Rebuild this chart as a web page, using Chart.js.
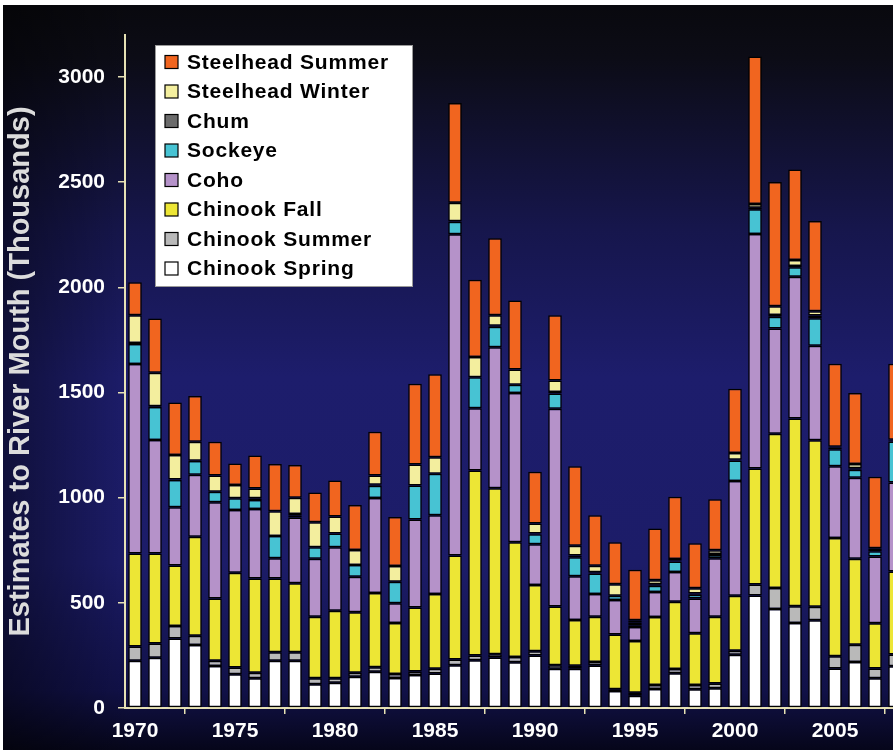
<!DOCTYPE html>
<html>
<head>
<meta charset="utf-8">
<script src="https://cdn.jsdelivr.net/npm/chart.js@4.4.1/dist/chart.umd.min.js"></script>
<style>
    html, body { margin: 0; padding: 0; background: #ffffff; overflow: hidden; width: 893px; height: 750px; }
    #wrap { position: absolute; left: 3px; top: 5px; width: 912px; height: 745px; }
</style>
</head>
<body>
<div id="wrap"><canvas id="runs" width="912" height="745"></canvas></div>
<script>
// Columbia River returns, thousands of fish, 1970-2008
const years = ['1970','1971','1972','1973','1974','1975','1976','1977','1978','1979',
    '1980','1981','1982','1983','1984','1985','1986','1987','1988','1989',
    '1990','1991','1992','1993','1994','1995','1996','1997','1998','1999',
    '2000','2001','2002','2003','2004','2005','2006','2007','2008'];

const chinookSpring = [225,239,331,300,200,160,141,225,225,113,
    120,149,172,143,157,164,203,227,240,217,
    250,187,187,202,81,58,90,165,89,94,
    253,535,471,404,417,188,219,141,199];
const chinookSummer = [67,68,59,44,25,32,27,40,40,28,
    21,19,22,19,16,23,28,23,16,25,
    20,16,14,17,8,15,19,20,20,23,
    19,52,100,80,64,58,82,47,55];
const chinookFall = [443,428,288,470,296,451,448,351,328,293,
    322,287,353,242,305,355,494,879,789,546,
    315,280,217,215,261,246,324,320,246,317,
    262,552,733,892,792,562,409,215,395];
const coho = [901,539,276,295,457,298,330,96,313,276,
    301,169,452,94,418,375,1528,296,670,710,
    194,940,209,108,163,66,118,142,166,278,
    545,1115,500,675,450,342,385,317,423];
const sockeye = [95,157,130,65,50,56,43,106,10,54,
    66,56,58,102,162,197,59,148,98,39,
    47,72,90,98,21,8,30,50,18,16,
    98,117,56,45,130,80,38,25,195];
const chum = [4,4,3,2,0,0,8,0,6,0,
    0,0,4,0,0,0,3,0,4,0,
    4,7,8,6,0,12,8,6,6,4,
    3,8,9,6,13,8,7,6,4];
const steelheadWinter = [132,159,116,90,77,63,47,117,78,119,
    80,71,45,75,100,78,87,96,50,73,
    47,55,46,30,54,12,18,6,24,18,
    32,18,41,28,20,4,20,8,4];
const steelheadSummer = [157,258,250,217,161,103,157,225,155,142,
    172,214,208,233,384,395,475,367,366,327,
    246,310,378,240,200,240,247,296,214,242,
    306,701,591,430,430,395,338,340,362];

const yTicks = [0, 500, 1000, 1500, 2000, 2500, 3000];

const axisColor = '#e6e1b4';
const labelFont = { family: '"Liberation Sans", Arial, sans-serif', size: 21, weight: 'bold' };

function series(label, data, color) {
    return {
        label: label,
        data: data,
        backgroundColor: color,
        borderColor: '#000000',
        borderWidth: 1.5,
        borderSkipped: false,
        barPercentage: 0.68,
        categoryPercentage: 1
    };
}

// bottom of the stack first
const datasets = [
    series('Chinook Spring', chinookSpring, '#ffffff'),
    series('Chinook Summer', chinookSummer, '#b9b9b9'),
    series('Chinook Fall', chinookFall, '#ede635'),
    series('Coho', coho, '#b592c9'),
    series('Sockeye', sockeye, '#47c3d3'),
    series('Chum', chum, '#6b6b6b'),
    series('Steelhead Winter', steelheadWinter, '#f3ee9e'),
    series('Steelhead Summer', steelheadSummer, '#f1651f')
];

const background = {
    id: 'background',
    beforeDraw(chart) {
        const ctx = chart.ctx;
        const h = chart.height, w = chart.width;
        const g = ctx.createLinearGradient(0, 0, 0, h);
        g.addColorStop(0, '#09090e');
        g.addColorStop(0.07, '#0c0c16');
        g.addColorStop(0.3, '#16164c');
        g.addColorStop(0.5, '#1d1d6c');
        g.addColorStop(0.75, '#1c1c68');
        g.addColorStop(0.92, '#111148');
        g.addColorStop(1, '#06061a');
        ctx.save();
        ctx.fillStyle = g;
        ctx.fillRect(0, 0, w, h);
        const side = ctx.createLinearGradient(0, 0, 130, 0);
        side.addColorStop(0, 'rgba(0,0,0,0.45)');
        side.addColorStop(1, 'rgba(0,0,0,0)');
        ctx.fillStyle = side;
        ctx.fillRect(0, 0, 130, h);
        ctx.restore();
    }
};

const boxLegend = {
    id: 'boxLegend',
    afterDraw(chart) {
        const ctx = chart.ctx;
        const x = 152, y = 40, w = 258, h = 242;
        ctx.save();
        ctx.fillStyle = '#ffffff';
        ctx.fillRect(x, y, w, h);
        ctx.strokeStyle = '#9a9a9a';
        ctx.lineWidth = 1;
        ctx.strokeRect(x + 0.5, y + 0.5, w - 1, h - 1);
        ctx.font = 'bold 21px "Liberation Sans", Arial, sans-serif';
        ctx.textBaseline = 'middle';
        ctx.letterSpacing = '0.8px';
        const items = chart.data.datasets.slice().reverse();
        items.forEach(function (ds, i) {
            const cy = y + 17 + i * 29.5;
            ctx.fillStyle = ds.backgroundColor;
            ctx.fillRect(x + 10, cy - 6.5, 13, 13);
            ctx.strokeStyle = '#000000';
            ctx.lineWidth = 1.2;
            ctx.strokeRect(x + 10, cy - 6.5, 13, 13);
            ctx.fillStyle = '#000000';
            ctx.fillText(ds.label, x + 32, cy + 1);
        });
        ctx.restore();
    }
};

new Chart(document.getElementById('runs'), {
    type: 'bar',
    data: { labels: years, datasets: datasets },
    options: {
        responsive: false,
        animation: false,
        devicePixelRatio: 1,
        layout: { padding: { top: 30, right: 10, left: 0, bottom: 0 } },
        plugins: {
            legend: { display: false },
            tooltip: { enabled: false }
        },
        scales: {
            x: {
                stacked: true,
                afterFit: function (scale) { scale.height = 42; },
                border: { display: true, color: axisColor, width: 2 },
                grid: { display: true, offset: true, drawOnChartArea: false, drawTicks: true, tickLength: 6, color: axisColor, lineWidth: 1.5 },
                ticks: {
                    autoSkip: false,
                    maxRotation: 0,
                    padding: 5,
                    color: '#ffffff',
                    font: labelFont,
                    callback: function (value) {
                        const label = this.getLabelForValue(value);
                        return Number(label) % 5 === 0 ? label : null;
                    }
                }
            },
            y: {
                stacked: true,
                min: 0,
                max: 3200,
                afterFit: function (scale) { scale.width = 122; },
                afterBuildTicks: function (scale) {
                    scale.ticks = yTicks.map(v => ({ value: v }));
                },
                border: { display: true, color: axisColor, width: 2 },
                grid: { display: true, drawOnChartArea: false, drawTicks: true, tickLength: 7, color: axisColor, lineWidth: 1.5 },
                ticks: {
                    padding: 13,
                    color: '#ffffff',
                    font: labelFont,
                    callback: function (value) { return String(value); }
                },
                title: {
                    display: true,
                    text: 'Estimates to River Mouth (Thousands)',
                    color: '#dcdcdc',
                    font: { family: '"Liberation Sans", Arial, sans-serif', size: 29, weight: 'bold' },
                    padding: { top: 1, bottom: 0 }
                }
            }
        }
    },
    plugins: [background, boxLegend]
});
</script>
</body>
</html>
